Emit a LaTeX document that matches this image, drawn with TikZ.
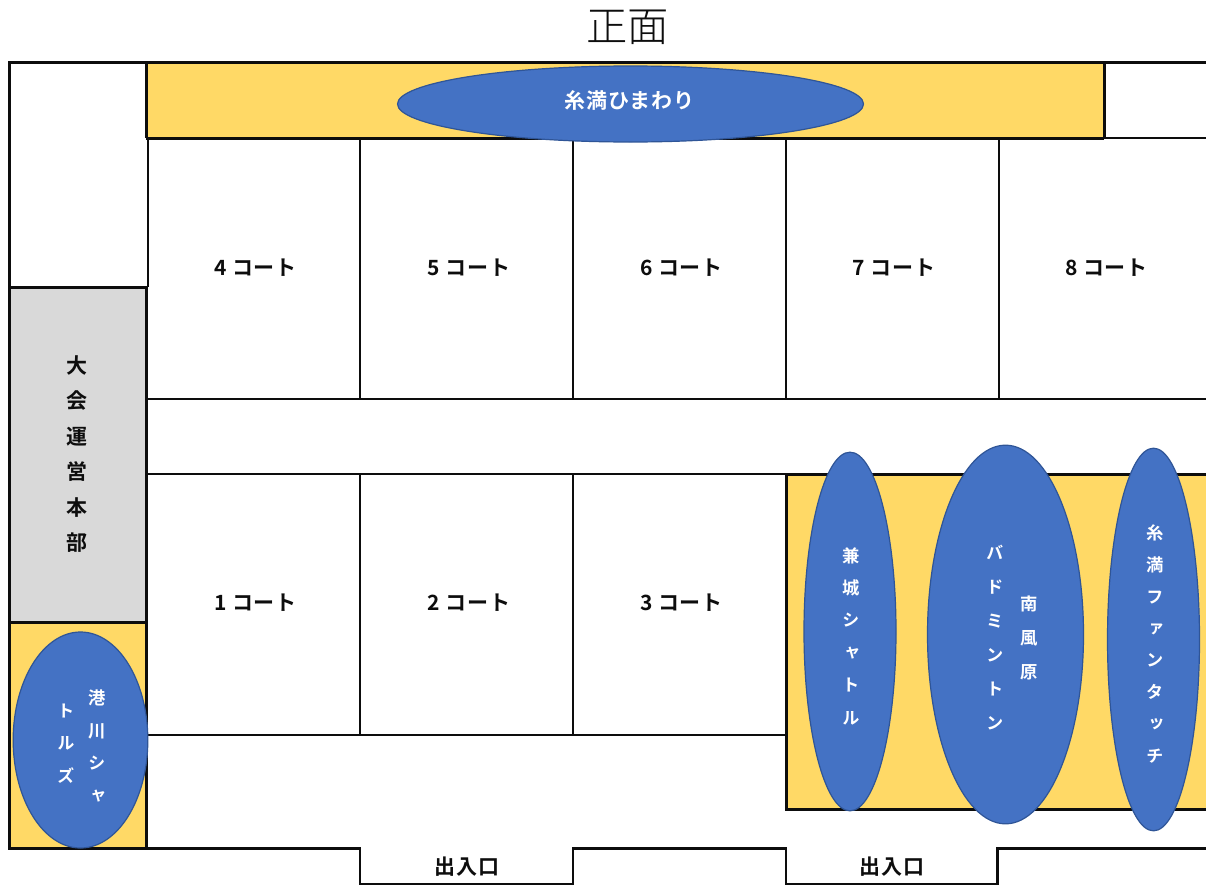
\documentclass[tikz,border=0pt]{standalone}
\usepackage{fontspec}
\usetikzlibrary{shapes.geometric}
\setmainfont{Noto Sans CJK JP}
\newfontfamily\jplabel[LetterSpace=3.5]{Noto Sans CJK JP Bold}
\newfontfamily\jptitle{Noto Sans CJK JP Light}
\newfontfamily\jpv[RawFeature=+vert]{Noto Sans CJK JP Bold}
\definecolor{hall}{HTML}{FFD966}
\definecolor{office}{HTML}{D9D9D9}
\definecolor{team}{HTML}{4472C4}
\definecolor{teamline}{HTML}{2F5597}
\definecolor{ink}{HTML}{0D0D0D}
\tikzset{
  x=0.75pt,y=-0.75pt,
  thin line/.style={line width=1.05pt,draw=ink},
  thick line/.style={line width=2.15pt,draw=ink,line join=miter},
  team oval/.style={ellipse,draw=teamline,line width=0.9pt,fill=team,inner sep=0pt},
  court label/.style={font=\jplabel\fontsize{15.75}{19}\selectfont,text=ink,inner sep=0pt},
  team label/.style={font=\jplabel\fontsize{15.75}{19}\selectfont,text=white,inner sep=0pt},
  vert team/.style={font=\jpv\fontsize{13}{#1}\selectfont,text=white,align=center,inner sep=0pt},
  vert team/.default={24.4}
}
\begin{document}
\begin{tikzpicture}
\useasboundingbox[fill=white] (0,0) rectangle (1206,885);
% title
\node[font=\jptitle\fontsize{31}{36}\selectfont,text=ink,inner sep=0pt] (title) at (627.5,27) {正面};
% filled areas
\fill[hall] (146,62) rectangle (1104,138);
\fill[hall] (786,474) rectangle (1206,809);
\fill[hall] (9,622) rectangle (146,848);
\fill[office] (9,287) rectangle (146,622);
% courts
\draw[thin line] (148,138) -- (148,287);
\draw[thin line] (148,138) -- (1206,138);
\draw[thin line] (148,399) -- (1206,399);
\draw[thin line] (148,474) -- (786,474);
\draw[thin line] (148,735) -- (786,735);
\draw[thin line] (360,138) -- (360,399) (573,138) -- (573,399) (786,138) -- (786,399) (999,138) -- (999,399);
\draw[thin line] (360,474) -- (360,735) (573,474) -- (573,735);
\draw[thin line] (360,884) -- (573,884) (786,884) -- (997,884);
% walls
\draw[thick line] (1206,62.3) -- (9.3,62.3) -- (9.3,848.3) -- (360,848.3) -- (360,885);
\draw[thick line] (573,885) -- (573,848.3) -- (786,848.3) -- (786,885);
\draw[thick line] (997.3,885) -- (997.3,848.3) -- (1206,848.3);
\draw[thick line] (146.3,62.3) -- (146.3,138.3);
\draw[thick line] (1104.3,62.3) -- (1104.3,138.3);
\draw[thick line] (146.3,138.3) -- (1104.3,138.3);
\draw[thick line] (9.3,287.3) -- (146.3,287.3) -- (146.3,848.3);
\draw[thick line] (9.3,622.3) -- (146.3,622.3);
\draw[thick line] (1206,474.3) -- (786.3,474.3) -- (786.3,809.3) -- (1206,809.3);
% court labels
\node[court label] (c4) at (255.5,268) {4 コート};
\node[court label] (c5) at (469,268) {5 コート};
\node[court label] (c6) at (681.5,268) {6 コート};
\node[court label] (c7) at (894,268) {7 コート};
\node[court label] (c8) at (1106.5,268) {8 コート};
\node[court label] (c1) at (255.5,603) {1 コート};
\node[court label] (c2) at (469,603) {2 コート};
\node[court label] (c3) at (681.5,603) {3 コート};
\node[court label] (door1) at (467,867) {出入口};
\node[court label] (door2) at (892,867) {出入口};
\node[court label,align=center,font=\jplabel\fontsize{15.75}{26.6}\selectfont] (hq) at (77,454) {大\\会\\運\\営\\本\\部};
% team ovals
\node[team oval,minimum width=349.5pt,minimum height=57pt] (t1) at (630.5,104) {};
\node[team label] (t1l) at (629.5,100) {糸満ひまわり};
\node[team oval,minimum width=101pt,minimum height=162pt] (t2) at (80.5,740) {};
\node[vert team=24.5] (t2a) at (97,746) {港\\川\\シ\\ャ};
\node[vert team=24.5] (t2b) at (66,743.5) {ト\\ル\\ズ};
\node[team oval,minimum width=69pt,minimum height=269pt] (t3) at (850,631.5) {};
\node[vert team=24.3] (t3l) at (851,636) {兼\\城\\シ\\ャ\\ト\\ル};
\node[team oval,minimum width=117pt,minimum height=284pt] (t4) at (1005.5,634.5) {};
\node[vert team=25.5] (t4a) at (995,638) {バ\\ド\\ミ\\ン\\ト\\ン};
\node[vert team=25.5] (t4b) at (1029,638) {南\\風\\原};
\node[team oval,minimum width=69pt,minimum height=287pt] (t5) at (1153.5,639.5) {};
\node[vert team=23.8] (t5l) at (1155,644) {糸\\満\\フ\\ァ\\ン\\タ\\ッ\\チ};
\end{tikzpicture}
\end{document}
